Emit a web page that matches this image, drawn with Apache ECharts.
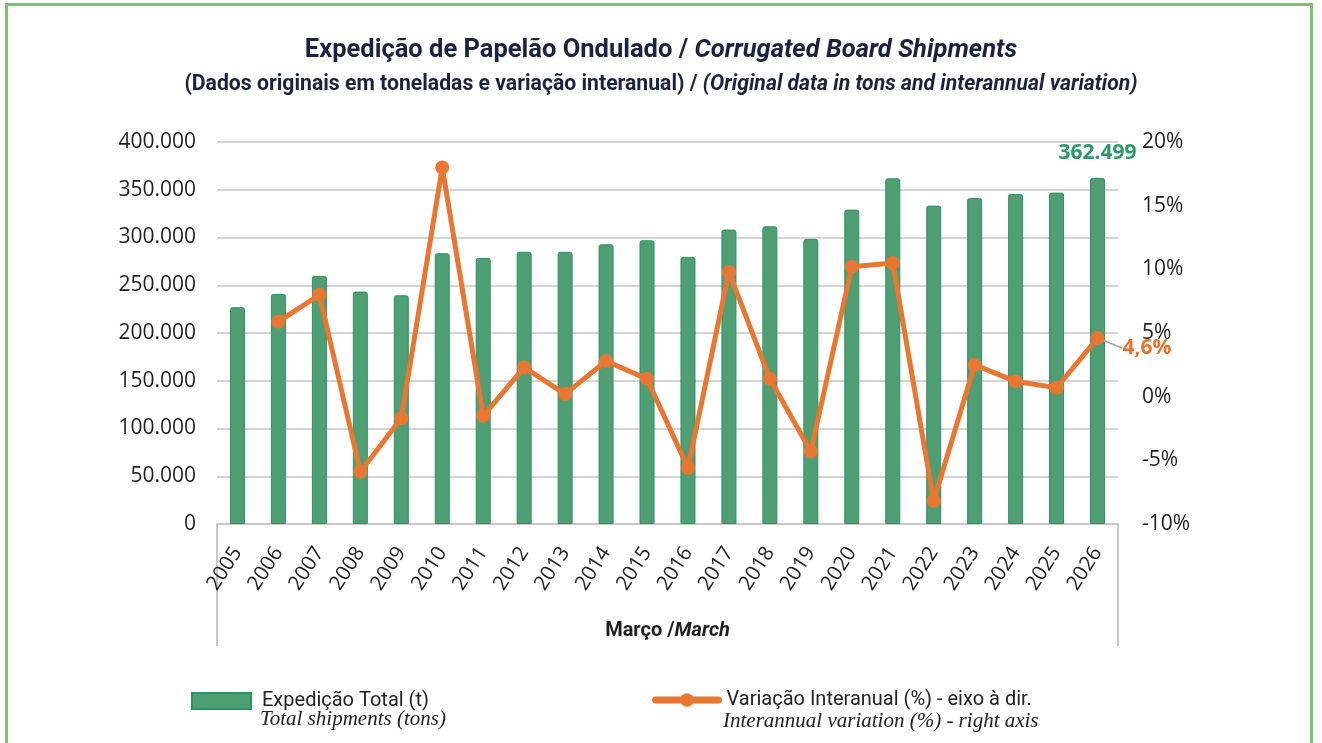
<!DOCTYPE html>
<html>
<head>
<meta charset="utf-8">
<script src="https://cdn.jsdelivr.net/npm/echarts@6/dist/echarts.min.js"></script>
<style>
  html,body{margin:0;padding:0;background:#fff;}
  #frame{position:absolute;left:5px;top:3px;width:1308px;height:760px;border:3px solid #7cc36c;box-sizing:border-box;}
  #chart{position:absolute;left:0;top:0;width:1322px;height:743px;}
</style>
</head>
<body>
<div id="frame"></div>
<div id="chart"></div>
<script>
const years = ['2005','2006','2007','2008','2009','2010','2011','2012','2013','2014','2015','2016','2017','2018','2019','2020','2021','2022','2023','2024','2025','2026'];
const shipments = [227000, 241000, 259800, 243400, 239500, 283500, 278700, 285000, 285000, 292900, 297100, 279700, 308300, 311700, 298500, 329200, 362000, 333400, 341400, 345600, 347000, 362499];
const variation = [null, 5.9, 8.0, -5.9, -1.7, 18.0, -1.5, 2.3, 0.2, 2.8, 1.4, -5.6, 9.8, 1.4, -4.3, 10.2, 10.5, -8.2, 2.5, 1.2, 0.7, 4.6];
const leftTicks = {min: 0, max: 400000, interval: 50000};
const rightTicks = {min: -10, max: 20, interval: 5};
const barName = 'Expedição Total (t)';
const lineName = 'Variação Interanual (%) - eixo à dir.';

function fmtThousands(v){ return String(Math.round(v)).replace(/\B(?=(\d{3})+(?!\d))/g, '.'); }

const last = shipments.length - 1;
const barData = shipments.map((v, i) => i === last ? {
  value: v,
  label: {show: true, position: 'top', distance: 14, formatter: p => fmtThousands(p.value),
          color: '#2a9a66', fontWeight: 'bold', fontSize: 21, fontFamily: 'Open Sans'}
} : v);
const lineData = variation.map((v, i) => i === last ? {
  value: v,
  label: {show: true, position: 'right', offset: [13, 10], formatter: p => String(p.value).replace('.', ',') + '%',
          color: '#e8712b', fontWeight: 'bold', fontSize: 21, fontFamily: 'Open Sans'},
  labelLine: {show: true, lineStyle: {color: '#a0a0a0', width: 1.5}}
} : v);

const chart = echarts.init(document.getElementById('chart'), null, {renderer: 'canvas'});
const baseFont = 'Open Sans';
const navy = '#1b2241';
const option = {
  animation: false,
  title: {
    left: 'center', top: 33, itemGap: 10,
    text: '{a|Expedição de Papelão Ondulado / }{b|Corrugated Board Shipments}',
    subtext: '{a|(Dados originais em toneladas e variação interanual) / }{b|(Original data in tons and interannual variation)}',
    textStyle: {rich: {
      a: {fontFamily: 'Roboto', fontWeight: 'bold', fontSize: 25.5, color: navy},
      b: {fontFamily: 'Roboto', fontWeight: 'bold', fontStyle: 'italic', fontSize: 25.5, color: navy}
    }},
    subtextStyle: {rich: {
      a: {fontFamily: 'Roboto', fontWeight: 'bold', fontSize: 21.2, color: navy},
      b: {fontFamily: 'Roboto', fontWeight: 'bold', fontStyle: 'italic', fontSize: 21.2, color: navy}
    }}
  },
  grid: {left: 217, right: 204, top: 142, bottom: 219, containLabel: false},
  legend: [
    {data: [{name: barName, icon: 'rect'}], left: 186, top: 686, itemWidth: 59, itemHeight: 16,
     textStyle: {fontFamily: 'Roboto', fontSize: 20, color: '#222', padding: [0,0,0,6]}},
    {data: [lineName], left: 647, top: 685, itemWidth: 63, itemHeight: 17,
     lineStyle: {width: 7, cap: 'round'},
     textStyle: {fontFamily: 'Roboto', fontSize: 20, color: '#222', padding: [0,0,0,3]}}
  ],
  xAxis: {
    type: 'category', data: years,
    axisLine: {lineStyle: {color: '#c8c8c8', width: 2}},
    axisTick: {show: false},
    axisLabel: {rotate: 57, margin: 25, fontFamily: baseFont, fontSize: 20.5, color: '#1f1f1f'},
    name: '{a|Março /}{b|March}', nameLocation: 'middle', nameGap: 97,
    nameTextStyle: {rich: {
      a: {fontFamily: 'Roboto', fontWeight: 'bold', fontSize: 20, color: '#1f1f1f'},
      b: {fontFamily: 'Roboto', fontWeight: 'bold', fontStyle: 'italic', fontSize: 20, color: '#1f1f1f'}
    }}
  },
  yAxis: [
    {type: 'value', min: leftTicks.min, max: leftTicks.max, interval: leftTicks.interval,
     axisLine: {show: false}, axisTick: {show: false},
     splitLine: {lineStyle: {color: '#d4d4d4', width: 2}},
     axisLabel: {formatter: v => fmtThousands(v), fontFamily: baseFont, fontSize: 21, color: '#1f1f1f', margin: 21}},
    {type: 'value', min: rightTicks.min, max: rightTicks.max, interval: rightTicks.interval,
     axisLine: {show: false}, axisTick: {show: false}, splitLine: {show: false},
     axisLabel: {formatter: v => v + '%', fontFamily: baseFont, fontSize: 21, color: '#1f1f1f', margin: 24}}
  ],
  series: [
    {name: barName, type: 'bar', data: barData, barWidth: 15, yAxisIndex: 0,
     itemStyle: {color: '#4f9e74', borderColor: '#2a9462', borderWidth: 1, borderRadius: [2,2,0,0]}},
    {name: lineName, type: 'line', data: lineData, yAxisIndex: 1, connectNulls: false,
     symbol: 'circle', symbolSize: 14,
     lineStyle: {color: '#ea7731', width: 5},
     itemStyle: {color: '#ea7731'}}
  ]
};
chart.setOption(option);

// frame lines of the category axis area, placed from the grid's own rect
const gridRect = chart.getModel().getComponent('grid').coordinateSystem.getRect();
const x1 = gridRect.x, x2 = gridRect.x + gridRect.width, yb = gridRect.y + gridRect.height;
chart.setOption({
  graphic: [
    {type: 'line', shape: {x1: x1, y1: yb, x2: x1, y2: yb + 122}, style: {stroke: '#c8c8c8', lineWidth: 2}},
    {type: 'line', shape: {x1: x2, y1: yb, x2: x2, y2: yb + 122}, style: {stroke: '#c8c8c8', lineWidth: 2}},
    {type: 'text', left: 260, top: 709, style: {text: 'Total shipments (tons)', font: 'italic 21px "Liberation Serif"', fill: '#222'}},
    {type: 'text', left: 723, top: 711, style: {text: 'Interannual variation (%) - right axis', font: 'italic 21px "Liberation Serif"', fill: '#222'}}
  ]
});
</script>
</body>
</html>
